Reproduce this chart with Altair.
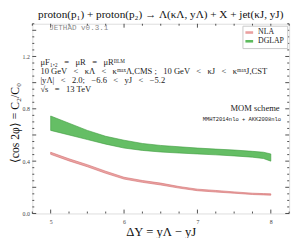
import altair as alt
import pandas as pd

# ---- data ----
dy = [5.0, 5.25, 5.5, 5.75, 6.0, 6.25, 6.5, 6.75, 7.0, 7.25, 7.5, 7.75, 7.9, 8.0]
nla_lo = [0.452, 0.402, 0.357, 0.307, 0.263, 0.238, 0.218, 0.194, 0.174, 0.164, 0.155, 0.145, 0.142, 0.140]
nla_hi = [0.468, 0.418, 0.373, 0.323, 0.277, 0.252, 0.232, 0.206, 0.186, 0.176, 0.165, 0.155, 0.152, 0.150]
dglap_lo = [0.635, 0.600, 0.565, 0.530, 0.500, 0.482, 0.470, 0.462, 0.455, 0.448, 0.440, 0.430, 0.420, 0.400]
dglap_hi = [0.745, 0.690, 0.635, 0.590, 0.560, 0.535, 0.520, 0.510, 0.500, 0.492, 0.485, 0.475, 0.468, 0.455]

series = ["NLA", "DGLAP"]
fill_colors = ["#eaa0a0", "#5dbb5d"]
edge_colors = ["#d06868", "#3a9a3a"]

x_major = [5, 6, 7, 8]
x_minor = [4.75, 5.25, 5.5, 5.75, 6.25, 6.5, 6.75, 7.25, 7.5, 7.75, 8.25]
y_major = [0.0, 0.2, 0.4, 0.6, 0.8, 1.0, 1.2, 1.4]
y_minor = [0.05, 0.1, 0.15, 0.25, 0.3, 0.35, 0.45, 0.5, 0.55, 0.65, 0.7, 0.75,
           0.85, 0.9, 0.95, 1.05, 1.1, 1.15, 1.25, 1.3, 1.35, 1.45]

W, H = 264, 195
XD = [4.75, 8.25]
YD = [0.0, 1.45]
SERIF = "Liberation Serif"
MONO = "Liberation Mono"
E = " \u2002"   # wider math-like spacing
F = "\u2002 "

rows = []
for i, x in enumerate(dy):
    rows.append({"x": x, "lo": nla_lo[i], "hi": nla_hi[i], "s": "NLA"})
for i, x in enumerate(dy):
    rows.append({"x": x, "lo": dglap_lo[i], "hi": dglap_hi[i], "s": "DGLAP"})
df = pd.DataFrame(rows)

xs = alt.Scale(domain=XD, nice=False, zero=False)
ys = alt.Scale(domain=YD, nice=False, zero=False)

bands = alt.Chart(df).mark_area(strokeWidth=0.6, fillOpacity=0.95).encode(
    x=alt.X("x:Q", scale=xs, title="ΔY = yΛ − yJ",
            axis=alt.Axis(values=x_major, format="d", ticks=False, domain=False, grid=False,
                          labelFontSize=6, labelFont=SERIF, labelColor="#444", labelPadding=5,
                          titleFont=SERIF, titleFontSize=13, titleFontWeight="normal",
                          titleColor="#111", titlePadding=2)),
    y=alt.Y("lo:Q", scale=ys, title="⟨cos 2φ⟩ = C₂/C₀",
            axis=alt.Axis(values=y_major, format=".1f", ticks=False, domain=False, grid=False,
                          labelFontSize=6, labelFont=SERIF, labelColor="#444", labelPadding=3,
                          titleFont=SERIF, titleFontSize=12, titleFontWeight="normal",
                          titleColor="#111", titleX=-18, titleY=H / 2 + 4,
                          titleBaseline="middle", titleAngle=270)),
    y2="hi:Q",
    color=alt.Color("s:N", scale=alt.Scale(domain=series, range=fill_colors),
                    legend=alt.Legend(title=None, orient="top-right", offset=2,
                                      strokeColor="#c8c8c8", fillColor="white", padding=3,
                                      symbolType="M-1.5,-0.5H1.5V0.5H-1.5Z", symbolSize=28,
                                      symbolStrokeWidth=0, symbolOpacity=1,
                                      labelFont=SERIF, labelFontSize=8, labelColor="#222",
                                      rowPadding=1, labelOffset=5)),
    stroke=alt.Stroke("s:N", scale=alt.Scale(domain=series, range=edge_colors), legend=None),
    order=alt.Order("s:N"),
)

# inward ticks on all four sides
def xticks(vals, ln):
    d = pd.DataFrame({"v": vals})
    b = alt.Chart(d).mark_rule(color="black", strokeWidth=0.7).encode(
        x=alt.X("v:Q", scale=xs), y=alt.value(H), y2=alt.value(H - ln))
    t = alt.Chart(d).mark_rule(color="black", strokeWidth=0.7).encode(
        x=alt.X("v:Q", scale=xs), y=alt.value(0), y2=alt.value(ln))
    return b + t

def yticks(vals, ln):
    d = pd.DataFrame({"v": vals})
    l = alt.Chart(d).mark_rule(color="black", strokeWidth=0.7).encode(
        y=alt.Y("v:Q", scale=ys), x=alt.value(0), x2=alt.value(ln))
    r = alt.Chart(d).mark_rule(color="black", strokeWidth=0.7).encode(
        y=alt.Y("v:Q", scale=ys), x=alt.value(W), x2=alt.value(W - ln))
    return l + r

ticks = xticks(x_major, 4) + xticks(x_minor, 2) + yticks(y_major, 4) + yticks(y_minor, 2)

# annotations (data coordinates)
ann_left = pd.DataFrame({
    "x": [4.86, 4.86, 4.86, 4.86],
    "y": [1.16, 1.089, 1.019, 0.948],
    "t": ["μF₁,₂" + E + "=" + F + "μR" + E + "=" + F + "μRᴮᴸᴹ",
          "10 GeV" + E + "<" + F + "κΛ" + E + "<" + F + "κᵐᵃˣΛ,CMS ;" + F + "10 GeV" + E + "<" + F
          + "κJ" + E + "<" + F + "κᵐᵃˣJ,CST",
          "|yΛ|" + E + "<" + F + "2.0;" + F + " −6.6" + E + "<" + F + "yJ" + E + "<" + F + "−5.2",
          "√s" + E + "=" + F + "13 TeV"],
})
txt_left = alt.Chart(ann_left).mark_text(align="left", baseline="middle", font=SERIF,
                                         fontSize=8.8, color="#222").encode(
    x=alt.X("x:Q", scale=xs), y=alt.Y("y:Q", scale=ys), text="t:N")

jet = pd.DataFrame({"x": [4.98], "y": [1.415], "t": ["JETHAD v0.3.1"]})
txt_jet = alt.Chart(jet).mark_text(align="left", baseline="middle", font=MONO,
                                   fontSize=7.8, color="#8a8a8a").encode(
    x=alt.X("x:Q", scale=xs), y=alt.Y("y:Q", scale=ys), text="t:N")

mom = pd.DataFrame({"x": [8.12], "y": [0.805], "t": ["MOM scheme"]})
txt_mom = alt.Chart(mom).mark_text(align="right", baseline="middle", font=SERIF,
                                   fontSize=8.8, color="#222").encode(
    x=alt.X("x:Q", scale=xs), y=alt.Y("y:Q", scale=ys), text="t:N")

pdf = pd.DataFrame({"x": [8.14], "y": [0.72], "t": ["MMHT2014nlo + AKK2008nlo"]})
txt_pdf = alt.Chart(pdf).mark_text(align="right", baseline="middle", font=MONO,
                                   fontSize=5.6, color="#222").encode(
    x=alt.X("x:Q", scale=xs), y=alt.Y("y:Q", scale=ys), text="t:N")

chart = alt.layer(bands, ticks, txt_left, txt_jet, txt_mom, txt_pdf).properties(
    width=W, height=H,
    title=alt.TitleParams("proton(p₁) + proton(p₂) → Λ(κΛ, yΛ) + X + jet(κJ, yJ)",
                          font=SERIF, fontSize=11.5, fontWeight="normal", anchor="middle",
                          offset=3, color="#111"),
    autosize=alt.AutoSizeParams(type="none"),
    padding={"left": 25, "top": 13, "right": 6, "bottom": 22},
).configure_view(stroke="black", strokeWidth=1).configure(background="white")

chart.save("out.html", embed_options={"renderer": "svg", "actions": False})
